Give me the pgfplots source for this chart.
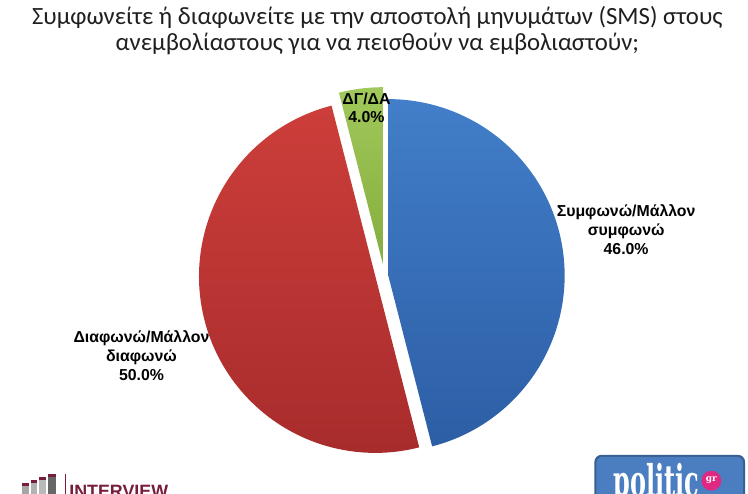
\documentclass[border=0pt]{standalone}
\usepackage{fontspec}
\setmainfont{Carlito}
\newfontfamily\lab{Liberation Sans}
\newfontfamily\slab{DejaVu Serif}
\usepackage{pgfplots}
\usepackage{pgfplotstable}
\pgfplotsset{compat=1.18}

\definecolor{bluetop}{RGB}{66,126,201}
\definecolor{bluebot}{RGB}{44,94,165}
\definecolor{redtop}{RGB}{204,62,58}
\definecolor{redbot}{RGB}{168,44,44}
\definecolor{greentop}{RGB}{160,200,90}
\definecolor{greenbot}{RGB}{132,174,62}
\definecolor{maroon}{RGB}{118,30,58}
\definecolor{polblue}{RGB}{74,126,192}
\definecolor{polpink}{RGB}{222,40,130}

\pgfplotstableread{
label value
Agree 46
Disagree 50
DKNA 4
}\piedata

\begin{document}
\pgfplotstablegetelem{0}{value}\of\piedata\let\vA\pgfplotsretval
\pgfplotstablegetelem{1}{value}\of\piedata\let\vB\pgfplotsretval
\pgfplotstablegetelem{2}{value}\of\piedata\let\vC\pgfplotsretval
\pgfmathsetmacro\aBlueEnd{90-\vA*3.6}
\pgfmathsetmacro\aRedEnd{\aBlueEnd-\vB*3.6}
\pgfmathsetmacro\aGreenEnd{\aRedEnd-\vC*3.6}
\begin{tikzpicture}
\path[use as bounding box] (0,0) rectangle (748pt,498pt);
\begin{axis}[
  at={(0,0)}, anchor=south west,
  width=748pt, height=498pt, scale only axis,
  xmin=0, xmax=748, ymin=0, ymax=498,
  hide axis, clip=true,
]
% blue slice (46%)
\addplot[draw=none, top color=bluetop, bottom color=bluebot, domain=\aBlueEnd:90, samples=120]
  ({385+178*cos(x)},{220+178*sin(x)}) -- (axis cs:385,220) -- cycle;
% red slice (50%)
\addplot[draw=none, top color=redtop, bottom color=redbot, domain=\aRedEnd:\aBlueEnd, samples=120]
  ({372+178*cos(x)},{219+178*sin(x)}) -- (axis cs:372,219) -- cycle;
% green slice (4%)
\addplot[draw=none, top color=greentop, bottom color=greenbot, domain=\aGreenEnd:\aRedEnd, samples=30]
  ({379.5+178*cos(x)},{232+178*sin(x)}) -- (axis cs:379.5,232) -- cycle;

% title
\node[font=\fontsize{25}{26}\selectfont, align=center, text=black!88, inner sep=0pt] at (axis cs:374,467)
  {Συμφωνείτε ή διαφωνείτε με την αποστολή μηνυμάτων (SMS) στους\\ανεμβολίαστους για να πεισθούν να εμβολιαστούν;};

% labels
\node[font=\lab\bfseries\fontsize{16}{19}\selectfont, align=center] at (axis cs:625,266)
  {Συμφωνώ/Μάλλον\\συμφωνώ\\46.0\%};
\node[font=\lab\bfseries\fontsize{16}{19}\selectfont, align=center] at (axis cs:136,139)
  {Διαφωνώ/Μάλλον\\διαφωνώ\\50.0\%};
\node[font=\lab\bfseries\fontsize{16}{18}\selectfont, align=center] at (axis cs:363,389)
  {ΔΓ/ΔΑ\\4.0\%};

% INTERVIEW logo (cut at the bottom, as in the source)
\fill[gray!70] (axis cs:15,0) rectangle (axis cs:22,8);
\fill[maroon] (axis cs:15,8) rectangle (axis cs:22,11);
\fill[gray!60] (axis cs:24,0) rectangle (axis cs:31,11);
\fill[maroon] (axis cs:24,11) rectangle (axis cs:31,14);
\fill[gray!55] (axis cs:33,0) rectangle (axis cs:40,14);
\fill[maroon] (axis cs:33,14) rectangle (axis cs:40,17);
\fill[gray!80!black] (axis cs:42,0) rectangle (axis cs:50,17);
\fill[maroon] (axis cs:42,17) rectangle (axis cs:50,20);
\draw[maroon, line width=1.2pt] (axis cs:59,0) -- (axis cs:59,20);
\node[anchor=base west, inner sep=0pt, font=\lab\bfseries\fontsize{18}{18}\selectfont, text=maroon] at (axis cs:63,-4) {INTERVIEW};

% politic.gr logo (cut at the bottom, as in the source)
\fill[polblue!75!black, rounded corners=7pt] (axis cs:593,-20) rectangle (axis cs:745,39);
\fill[polblue, rounded corners=6pt] (axis cs:595,-20) rectangle (axis cs:743,37);
\node[anchor=base west, inner sep=0pt, text=white] at (axis cs:612,-3)
  {\scalebox{0.55}[1]{\slab\bfseries\fontsize{44}{44}\selectfont politic}};
\fill[polpink] (axis cs:711,13) circle[radius=10pt];
\node[font=\slab\bfseries\fontsize{9}{9}\selectfont, text=white] at (axis cs:711,14) {gr};
\end{axis}
\end{tikzpicture}
\end{document}
